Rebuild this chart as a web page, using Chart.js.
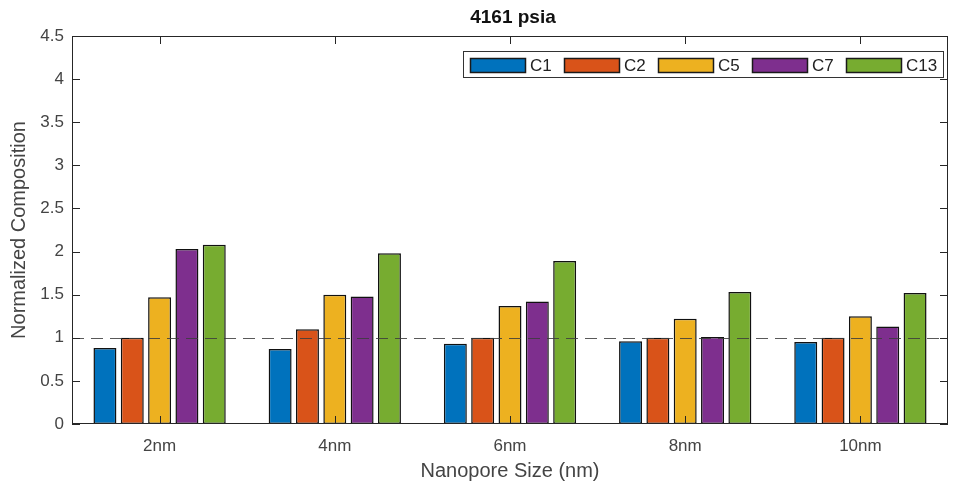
<!DOCTYPE html>
<html>
<head>
<meta charset="utf-8">
<script src="https://cdn.jsdelivr.net/npm/chart.js@4.4.0/dist/chart.umd.min.js"></script>
<style>
  html, body { margin: 0; padding: 0; background: #fff; }
</style>
</head>
<body>
<canvas id="chart" width="953" height="489"></canvas>
<script>
const poreSizes = ['2nm', '4nm', '6nm', '8nm', '10nm'];
const seriesNames = ['C1', 'C2', 'C5', 'C7', 'C13'];
const c1Values = [0.88, 0.87, 0.93, 0.96, 0.95];
const c2Values = [1.00, 1.10, 1.00, 1.00, 1.00];
const c5Values = [1.47, 1.50, 1.37, 1.22, 1.25];
const c7Values = [2.03, 1.48, 1.42, 1.01, 1.13];
const c13Values = [2.08, 1.98, 1.89, 1.53, 1.52];
const seriesColors = ['#0072BD', '#D95319', '#EDB120', '#7E2F8E', '#77AC30'];
const referenceLevel = 1;
const chartTitle = '4161 psia';

const FONT = "'Liberation Sans', Arial, sans-serif";
const AXIS_COLOR = '#262626';
const LABEL_COLOR = '#444';

const allValues = [c1Values, c2Values, c5Values, c7Values, c13Values];

const datasets = seriesNames.map((name, i) => ({
    label: name,
    data: allValues[i],
    backgroundColor: seriesColors[i],
    borderColor: '#111',
    borderWidth: 1.5,
    borderSkipped: false,
    categoryPercentage: 0.78,
    barPercentage: 0.84
}));

// frame, inward ticks, reference line, boxed legend and title
const decorations = {
    id: 'decorations',
    afterDatasetsDraw(chart) {
        const { ctx, chartArea: a, scales: { x, y } } = chart;
        ctx.save();

        // dashed line at the reference level
        const yr = Math.round(y.getPixelForValue(referenceLevel)) + 0.5;
        ctx.strokeStyle = 'rgba(60,60,60,0.85)';
        ctx.lineWidth = 1;
        ctx.setLineDash([12, 7]);
        ctx.beginPath();
        ctx.moveTo(a.left, yr);
        ctx.lineTo(a.right, yr);
        ctx.stroke();
        ctx.setLineDash([]);

        // ticks pointing inwards, like matlab
        const tl = 8;
        ctx.strokeStyle = AXIS_COLOR;
        ctx.beginPath();
        y.ticks.forEach(t => {
            const py = Math.round(y.getPixelForValue(t.value)) + 0.5;
            ctx.moveTo(a.left, py); ctx.lineTo(a.left + tl, py);
            ctx.moveTo(a.right, py); ctx.lineTo(a.right - tl, py);
        });
        x.ticks.forEach((t, i) => {
            const px = Math.round(x.getPixelForValue(i)) + 0.5;
            ctx.moveTo(px, a.bottom); ctx.lineTo(px, a.bottom - tl);
            ctx.moveTo(px, a.top); ctx.lineTo(px, a.top + tl);
        });
        ctx.stroke();

        // box around the axes
        ctx.strokeRect(Math.round(a.left) + 0.5, Math.round(a.top) + 0.5,
            Math.round(a.right - a.left) - 1, Math.round(a.bottom - a.top) - 1);

        // legend
        const lw = 480, lh = 26;
        const lx = Math.round(a.right - 5 - lw) + 0.5;
        const ly = Math.round(a.top + 15) + 0.5;
        ctx.fillStyle = '#fff';
        ctx.fillRect(lx, ly, lw, lh);
        ctx.strokeStyle = '#333';
        ctx.strokeRect(lx, ly, lw, lh);
        ctx.font = '17px ' + FONT;
        ctx.textBaseline = 'middle';
        ctx.textAlign = 'left';
        chart.data.datasets.forEach((ds, i) => {
            const sx = Math.round(lx + 6 + i * 94);
            const sy = Math.round(ly + 6);
            ctx.fillStyle = ds.backgroundColor;
            ctx.fillRect(sx, sy, 56, 15);
            ctx.strokeStyle = '#1a1a1a';
            ctx.lineWidth = 1.5;
            ctx.strokeRect(sx + 0.5, sy + 0.5, 55, 14);
            ctx.fillStyle = '#222';
            ctx.fillText(ds.label, sx + 60, sy + 8);
        });

        // title
        ctx.font = 'bold 19px ' + FONT;
        ctx.textAlign = 'center';
        ctx.fillStyle = '#111';
        ctx.fillText(chartTitle, (a.left + a.right) / 2 + 3, 18);

        ctx.restore();
    }
};

new Chart(document.getElementById('chart'), {
    type: 'bar',
    data: { labels: poreSizes, datasets },
    options: {
        responsive: false,
        animation: false,
        devicePixelRatio: 1,
        layout: { padding: { top: 36, right: 5, bottom: 0, left: 0 } },
        plugins: {
            legend: { display: false },
            tooltip: { enabled: false },
            title: { display: false }
        },
        scales: {
            x: {
                grid: { display: false, drawTicks: false },
                border: { display: false },
                ticks: { color: LABEL_COLOR, font: { family: FONT, size: 17 }, padding: 12 },
                title: {
                    display: true, text: 'Nanopore Size (nm)', color: LABEL_COLOR,
                    font: { family: FONT, size: 20 }, padding: { top: 0, bottom: 6 }
                },
                afterFit: s => { s.height = 65; }
            },
            y: {
                min: 0, max: 4.5,
                grid: { display: false, drawTicks: false },
                border: { display: false },
                ticks: {
                    stepSize: 0.5, color: LABEL_COLOR, font: { family: FONT, size: 17 }, padding: 8,
                    callback: v => String(Math.round(v * 10) / 10)
                },
                title: {
                    display: true, text: 'Normalized Composition', color: LABEL_COLOR,
                    font: { family: FONT, size: 20 }, padding: { top: 7, bottom: 0 }
                },
                afterFit: s => { s.width = 72; }
            }
        }
    },
    plugins: [decorations]
});
</script>
</body>
</html>
